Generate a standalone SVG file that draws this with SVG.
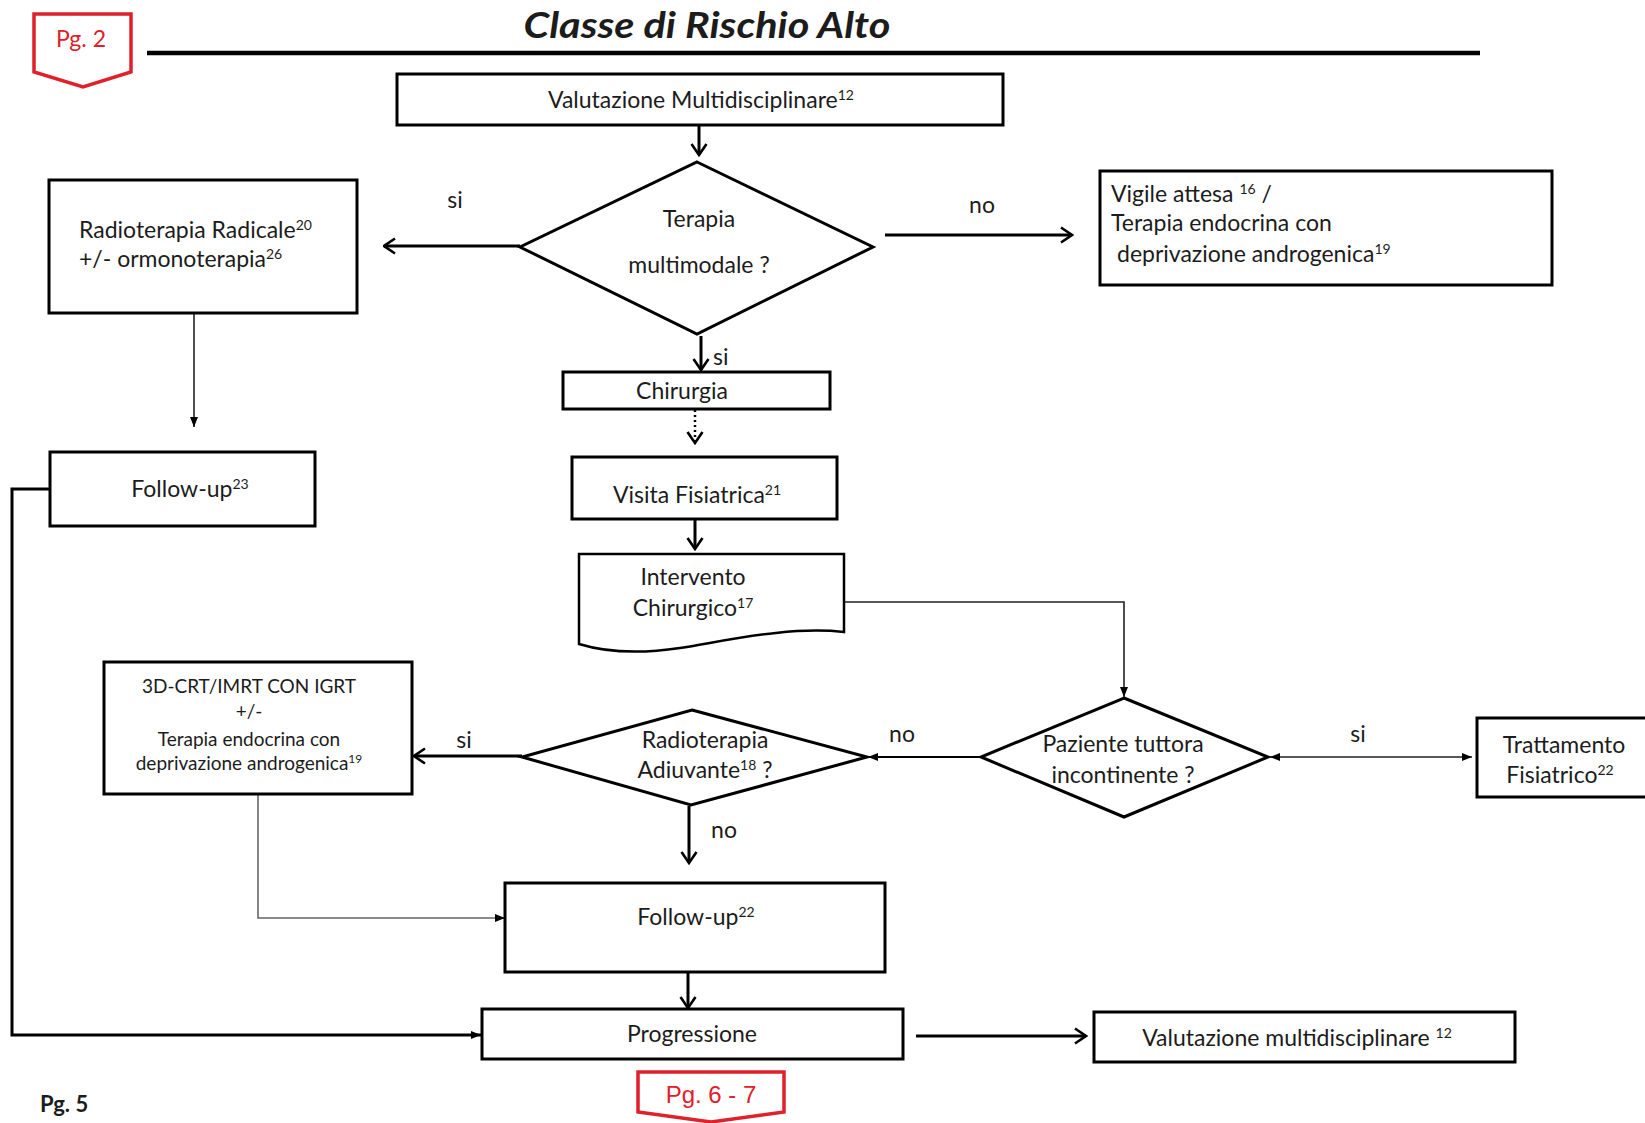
<svg xmlns="http://www.w3.org/2000/svg" width="1645" height="1123" viewBox="0 0 1645 1123">
<style>
text{font-family:Lato,"Open Sans","Liberation Sans",sans-serif;font-size:23px;fill:#1c1c1c}
.c{text-anchor:middle}
.sm{font-size:19px}
.sup{font-size:14px}
.box{fill:#fff;stroke:#000;stroke-width:3}
.red{fill:#fff;stroke:#e0202a;stroke-width:3.5}
.rt{fill:#e0202a;text-anchor:middle}
.thick{fill:none;stroke:#000;stroke-width:3}
.thin{fill:none;stroke:#222;stroke-width:1.6}
</style>
<defs>
<marker id="open" viewBox="0 0 14 18" refX="12.5" refY="9" markerWidth="14" markerHeight="18" markerUnits="userSpaceOnUse" orient="auto">
<path d="M1.5,1.5 L12.5,9 L1.5,16.5" fill="none" stroke="#000" stroke-width="2.6"/>
</marker>
<marker id="fill" viewBox="0 0 10 10" refX="10" refY="5" markerWidth="10" markerHeight="10" markerUnits="userSpaceOnUse" orient="auto">
<path d="M0,1 L10,5 L0,9 Z" fill="#000"/>
</marker>
<marker id="fillS" viewBox="0 0 10 10" refX="0" refY="5" markerWidth="10" markerHeight="10" markerUnits="userSpaceOnUse" orient="auto">
<path d="M10,1 L0,5 L10,9 Z" fill="#000"/>
</marker>
</defs>
<rect width="1645" height="1123" fill="#fff"/>

<g id="header">
<text x="707" y="38" class="c" font-weight="bold" font-style="italic" textLength="367" lengthAdjust="spacingAndGlyphs" style="font-size:36px">Classe di Rischio Alto</text>
<line x1="147" y1="53" x2="1480" y2="53" stroke="#000" stroke-width="4.5"/>
</g>

<g id="pg2">
<path class="red" d="M34,14 H131 V72 L83,87 L34,72 Z"/>
<text x="81" y="47" class="rt" style="font-size:23px">Pg. 2</text>
</g>

<g id="connectors">
<line class="thick" x1="699" y1="125" x2="699" y2="155" marker-end="url(#open)"/>
<line class="thick" x1="520" y1="246" x2="384" y2="246" marker-end="url(#open)"/>
<line class="thick" x1="885" y1="235" x2="1072" y2="235" marker-end="url(#open)"/>
<line class="thick" x1="701" y1="336" x2="701" y2="370" marker-end="url(#open)"/>
<line x1="695" y1="410" x2="695" y2="443" fill="none" stroke="#000" stroke-width="2.5" stroke-dasharray="2,3" marker-end="url(#open)"/>
<line class="thick" x1="695" y1="519" x2="695" y2="549" marker-end="url(#open)"/>
<polyline class="thin" points="844,602 1124,602 1124,697" marker-end="url(#fill)"/>
<line class="thin" x1="1270" y1="757" x2="1472" y2="757" marker-start="url(#fillS)" marker-end="url(#fill)"/>
<line fill="none" stroke="#000" stroke-width="2.2" x1="981" y1="757" x2="868" y2="757" marker-end="url(#fill)"/>
<line class="thick" x1="522" y1="756" x2="414" y2="756" marker-end="url(#open)"/>
<line class="thick" x1="689" y1="806" x2="689" y2="863" marker-end="url(#open)"/>
<polyline fill="none" stroke="#666" stroke-width="1.6" points="258,794 258,918 505,918" marker-end="url(#fill)"/>
<line class="thick" x1="688" y1="973" x2="688" y2="1008" marker-end="url(#open)"/>
<line class="thick" x1="916" y1="1036" x2="1086" y2="1036" marker-end="url(#open)"/>
<line class="thin" x1="194" y1="313" x2="194" y2="427" marker-end="url(#fill)"/>
<polyline fill="none" stroke="#000" stroke-width="3" points="50,489 12,489 12,1035 481,1035" marker-end="url(#fill)"/>
</g>

<g id="labels">
<text x="455" y="208" class="c">si</text>
<text x="982" y="213" class="c">no</text>
<text x="713" y="365">si</text>
<text x="464" y="748" class="c">si</text>
<text x="902" y="742" class="c">no</text>
<text x="1358" y="742" class="c">si</text>
<text x="724" y="838" class="c">no</text>
</g>

<g id="n_valutazione">
<rect class="box" x="397" y="74" width="606" height="51"/>
<text x="701" y="108" class="c">Valutazione Multidisciplinare<tspan class="sup" dy="-8">12</tspan></text>
</g>

<g id="n_terapia">
<path class="box" d="M697,162 L873,247 L697,334 L520,247 Z"/>
<text x="699" y="227" class="c">Terapia</text>
<text x="699" y="273" class="c">multimodale ?</text>
</g>

<g id="n_radioterapia">
<rect class="box" x="49" y="180" width="308" height="133"/>
<text x="79" y="238">Radioterapia Radicale<tspan class="sup" dy="-8">20</tspan></text>
<text x="79" y="267">+/- ormonoterapia<tspan class="sup" dy="-8">26</tspan></text>
</g>

<g id="n_vigile">
<rect class="box" x="1100" y="171" width="452" height="114"/>
<text x="1111" y="202">Vigile attesa <tspan class="sup" dy="-8">16</tspan><tspan dy="8"> /</tspan></text>
<text x="1111" y="231">Terapia endocrina con</text>
<text x="1117" y="262">deprivazione androgenica<tspan class="sup" dy="-8">19</tspan></text>
</g>

<g id="n_chirurgia">
<rect class="box" x="563" y="372" width="267" height="37"/>
<text x="682" y="399" class="c">Chirurgia</text>
</g>

<g id="n_followup23">
<rect class="box" x="50" y="452" width="265" height="74"/>
<text x="190" y="497" class="c">Follow-up<tspan class="sup" dy="-8">23</tspan></text>
</g>

<g id="n_visita">
<rect class="box" x="572" y="457" width="265" height="62"/>
<text x="697" y="503" class="c">Visita Fisiatrica<tspan class="sup" dy="-8">21</tspan></text>
</g>

<g id="n_intervento">
<path fill="#fff" stroke="#000" stroke-width="2.5" d="M579,554 H844 V632 C790,626 730,640 680,648 C640,654 605,652 579,644 Z"/>
<text x="693" y="585" class="c">Intervento</text>
<text x="693" y="616" class="c">Chirurgico<tspan class="sup" dy="-8">17</tspan></text>
</g>

<g id="n_paziente">
<path class="box" d="M1124,698 L1268,757 L1124,817 L981,757 Z"/>
<text x="1123" y="752" class="c">Paziente tuttora</text>
<text x="1123" y="783" class="c">incontinente ?</text>
</g>

<g id="n_trattamento">
<rect class="box" x="1477" y="718" width="180" height="79"/>
<text x="1564" y="753" class="c">Trattamento</text>
<text x="1560" y="783" class="c">Fisiatrico<tspan class="sup" dy="-8">22</tspan></text>
</g>

<g id="n_adiuvante">
<path class="box" d="M692,710 L867,757 L691,805 L522,757 Z"/>
<text x="705" y="748" class="c">Radioterapia</text>
<text x="705" y="778" class="c">Adiuvante<tspan class="sup" dy="-8">18</tspan><tspan dy="8">  ?</tspan></text>
</g>

<g id="n_3dcrt">
<rect class="box" x="104" y="662" width="308" height="132"/>
<text x="249" y="693" class="c sm">3D-CRT/IMRT CON IGRT</text>
<text x="249" y="718" class="c sm">+/-</text>
<text x="249" y="746" class="c sm">Terapia endocrina con</text>
<text x="249" y="770" class="c sm">deprivazione androgenica<tspan class="sup" dy="-7" style="font-size:12px">19</tspan></text>
</g>

<g id="n_followup22">
<rect class="box" x="505" y="883" width="380" height="89"/>
<text x="696" y="925" class="c">Follow-up<tspan class="sup" dy="-8">22</tspan></text>
</g>

<g id="n_progressione">
<rect class="box" x="482" y="1009" width="421" height="50"/>
<text x="692" y="1042" class="c">Progressione</text>
</g>

<g id="n_valutazione2">
<rect class="box" x="1094" y="1012" width="421" height="50"/>
<text x="1297" y="1046" class="c">Valutazione multidisciplinare <tspan class="sup" dy="-8">12</tspan></text>
</g>

<g id="pg67">
<path class="red" d="M638,1072 H784 V1112 L711,1122 L638,1112 Z"/>
<text x="711" y="1103" class="rt" style="font-family:'Liberation Sans',Arial,sans-serif;font-size:24px">Pg. 6 - 7</text>
</g>

<g id="pg5">
<text x="40" y="1112" font-weight="bold" style="font-size:22px">Pg. 5</text>
</g>
</svg>
